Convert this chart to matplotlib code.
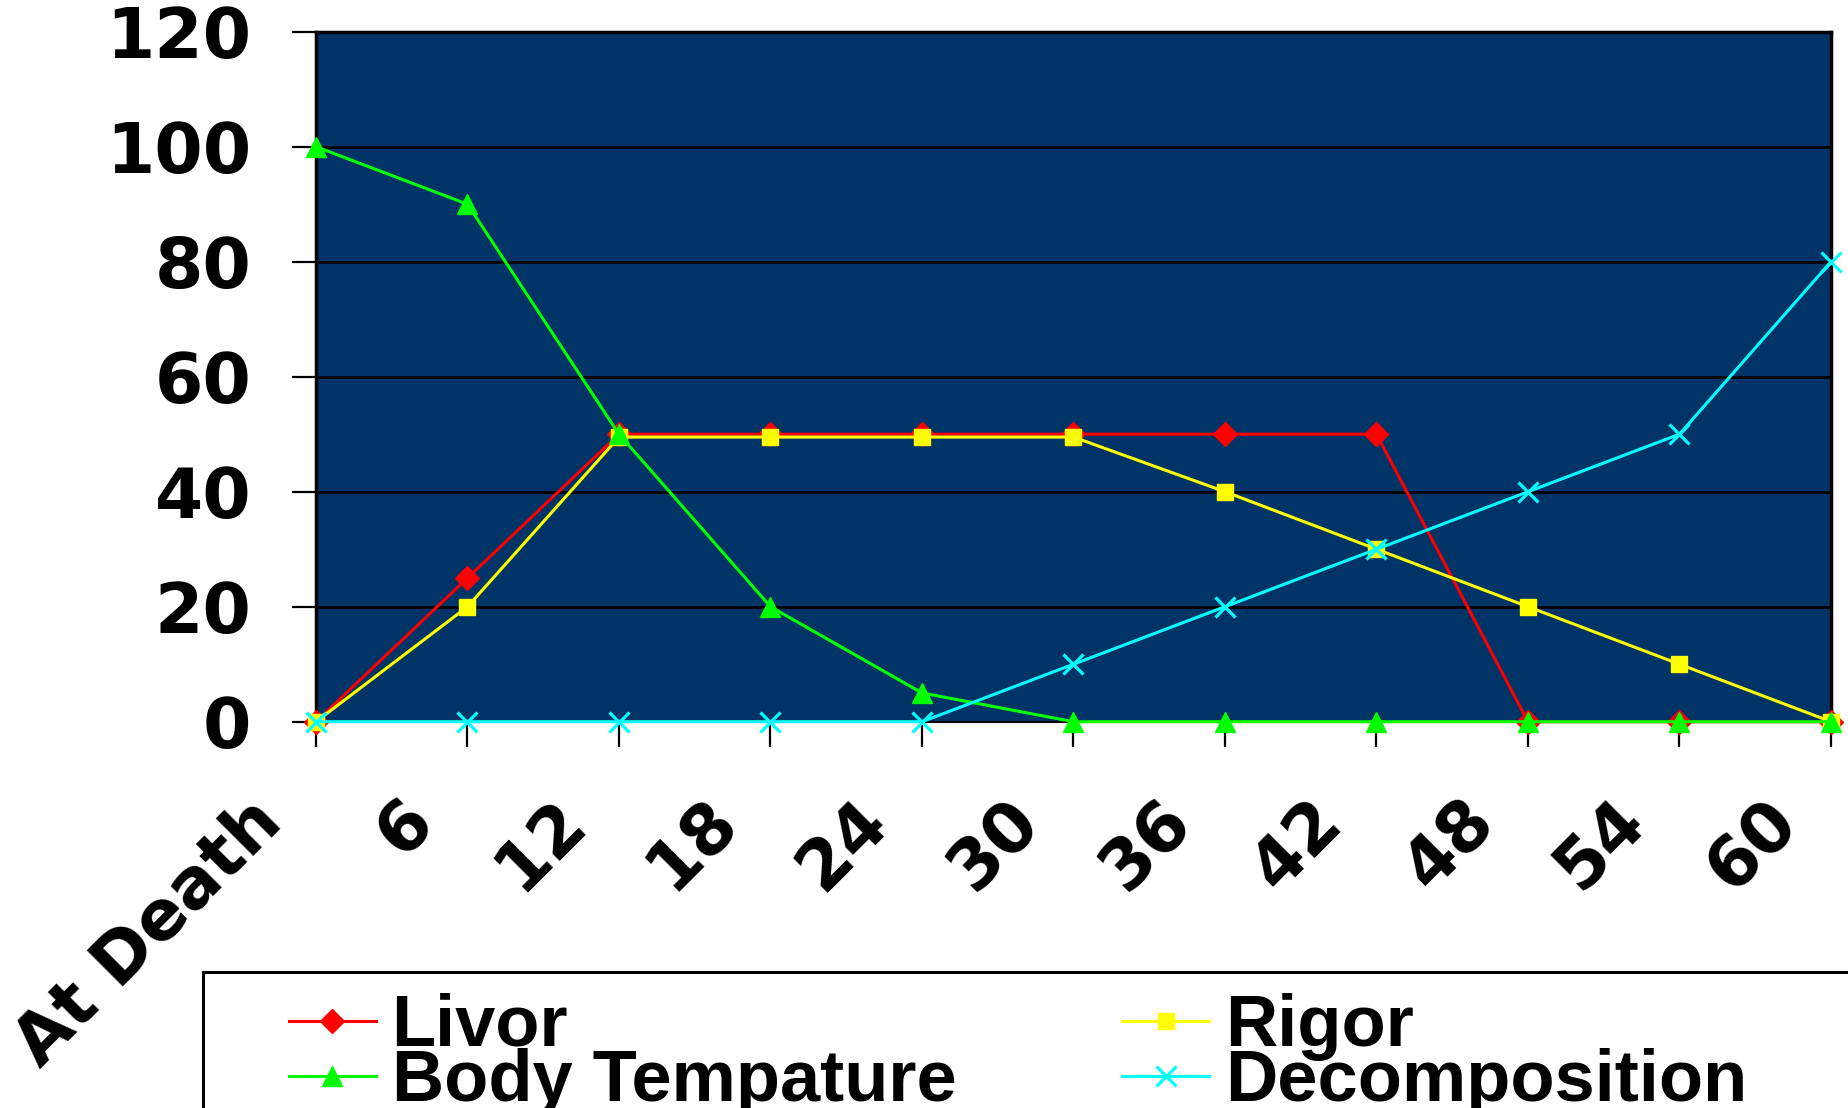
import matplotlib
matplotlib.use("Agg")
import matplotlib.pyplot as plt
from matplotlib.patches import Rectangle
from matplotlib.transforms import ScaledTranslation
from matplotlib.font_manager import FontProperties

# data
hours = ['At Death', '6', '12', '18', '24', '30', '36', '42', '48', '54', '60']
livor = [0, 25, 50, 50, 50, 50, 50, 50, 0, 0, 0]
rigor = [0, 20, 49.5, 49.5, 49.5, 49.5, 40, 30, 20, 10, 0]
body_temp = [100, 90, 50, 20, 5, 0, 0, 0, 0, 0, 0]
decomposition = [0, 0, 0, 0, 0, 10, 20, 30, 40, 50, 80]
y_ticks = [0, 20, 40, 60, 80, 100, 120]

W, H = 1849, 1108
fig = plt.figure(figsize=(W / 100, H / 100), dpi=100)
ax = fig.add_axes([316 / W, 1 - 721.7 / H, (1831 - 316) / W, (721.7 - 31.7) / H])
ax.set_facecolor('#003366')

x = list(range(len(hours)))
common = dict(lw=2.2, clip_on=False, zorder=3)
l_livor, = ax.plot(x, livor, color='#FF0000', marker='D', ms=12, label='Livor', **common)
l_rigor, = ax.plot(x, rigor, color='#FFFF00', marker='s', ms=12, label='Rigor', **common)
l_body, = ax.plot(x, body_temp, color='#00FF00', marker='^', ms=15, label='Body Tempature', **common)
l_dec, = ax.plot(x, decomposition, color='#00FFFF', marker='x', ms=15, mew=2.3,
                 label='Decomposition', **common)

ax.set_xlim(0, len(hours) - 1)
ax.set_ylim(0, 120)
ax.set_yticks(y_ticks)
ax.set_xticks(x)
ax.yaxis.grid(True, color='black', lw=2.0)
ax.set_axisbelow(True)
for s in ['left', 'top', 'right']:
    ax.spines[s].set_linewidth(2.5)
    ax.spines[s].set_color('black')
ax.spines['bottom'].set_linewidth(1.5)

ax.tick_params(axis='y', length=17, width=1.6, pad=29.5, labelsize=50)
ax.tick_params(axis='x', length=18, width=1.6, pad=29, labelsize=50)
for lab in ax.get_yticklabels():
    lab.set_fontweight('bold')
    lab.set_family('DejaVu Sans')
ax.set_xticklabels(hours, rotation=45, ha='right', va='top',
                   fontweight='bold', family='DejaVu Sans')
shift = ScaledTranslation(-21 / 100, 0, fig.dpi_scale_trans)
for lab in ax.get_xticklabels():
    lab.set_transform(lab.get_transform() + shift)

# legend
fig.add_artist(Rectangle((203 / W, -0.05), 1.1, (1 - 971.6 / H) + 0.05,
                         transform=fig.transFigure, fill=False,
                         edgecolor='black', lw=2.2, clip_on=False))
leg_font = FontProperties(family='Liberation Sans', weight='bold', size=52)
fig.legend([l_livor, l_body, l_rigor, l_dec],
           ['Livor', 'Body Tempature', 'Rigor', 'Decomposition'],
           ncol=2, loc='upper left', bbox_to_anchor=(289 / W, 1 - 993 / H),
           frameon=False, prop=leg_font, borderpad=0, borderaxespad=0,
           handlelength=1.2, handletextpad=0.22, columnspacing=2.3,
           labelspacing=-0.18)

fig.savefig('out.png', dpi=100)
